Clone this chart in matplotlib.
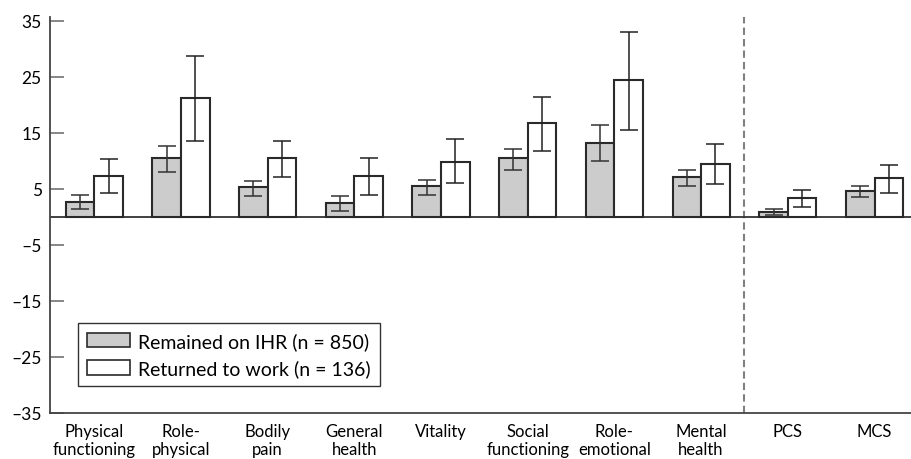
import matplotlib
matplotlib.use("Agg")
import matplotlib.pyplot as plt
from matplotlib.patches import Patch
import numpy as np

plt.rcParams['font.family'] = ['Lato', 'DejaVu Sans']

cats = ["Physical\nfunctioning", "Role-\nphysical", "Bodily\npain", "General\nhealth",
        "Vitality", "Social\nfunctioning", "Role-\nemotional", "Mental\nhealth", "PCS", "MCS"]

# remained on IHR (n = 850): mean and 95% CI
ihr = [2.7, 10.5, 5.3, 2.5, 5.5, 10.5, 13.2, 7.2, 0.95, 4.7]
ihr_lo = [1.4, 8.1, 3.8, 1.1, 3.9, 8.4, 10.0, 5.6, 0.4, 3.5]
ihr_hi = [3.9, 12.7, 6.5, 3.7, 6.6, 12.1, 16.4, 8.4, 1.5, 5.6]

# returned to work (n = 136)
rtw = [7.4, 21.2, 10.5, 7.3, 9.9, 16.7, 24.5, 9.5, 3.4, 7.0]
rtw_lo = [4.3, 13.6, 7.1, 4.0, 6.1, 11.8, 15.6, 5.8, 1.7, 4.3]
rtw_hi = [10.4, 28.7, 13.6, 10.5, 13.9, 21.5, 33.1, 13.1, 4.75, 9.2]

yticks = [35, 25, 15, 5, -5, -15, -25, -35]

fig = plt.figure(figsize=(9.12, 4.6), dpi=100)
ax = fig.add_axes([50 / 912, 46 / 460, 862 / 912, 396 / 460])

x = np.arange(len(cats))
w = 0.33
dark = '#2a2a2a'

ihr_err = [np.array(ihr) - np.array(ihr_lo), np.array(ihr_hi) - np.array(ihr)]
rtw_err = [np.array(rtw) - np.array(rtw_lo), np.array(rtw_hi) - np.array(rtw)]

ax.bar(x - w / 2, ihr, w, color='#cccccc', edgecolor=dark, linewidth=1.5, zorder=3)
ax.bar(x + w / 2, rtw, w, color='white', edgecolor=dark, linewidth=1.5, zorder=3)
ax.errorbar(x - w / 2, ihr, yerr=ihr_err, fmt='none', ecolor='#333333',
            elinewidth=1.1, capsize=6.5, capthick=1.1, zorder=4)
ax.errorbar(x + w / 2, rtw, yerr=rtw_err, fmt='none', ecolor='#222222',
            elinewidth=1.1, capsize=6.5, capthick=1.1, zorder=4)

ax.axhline(0, color='#333333', lw=1.3, zorder=2)
ax.axvline(7.5, color='#808080', lw=1.5, linestyle=(0, (3.5, 2)), zorder=1)

ax.set_xlim(-0.51, -0.51 + 862 / 86.7)
ax.set_ylim(-35, 35.7)
ax.set_yticks(yticks)
ax.set_yticklabels([str(t).replace('-', '\u2013') for t in yticks])
ax.set_xticks(x)
ax.set_xticklabels(cats, fontsize=12, linespacing=1.2)
ax.tick_params(axis='x', length=0, pad=7)
ax.tick_params(axis='y', direction='in', length=10, width=1.1, color='#666666',
               labelsize=12.5, pad=6)

for s in ['top', 'right']:
    ax.spines[s].set_visible(False)
for s in ['left', 'bottom']:
    ax.spines[s].set_color('#444444')
    ax.spines[s].set_linewidth(1.3)

handles = [Patch(facecolor='#cccccc', edgecolor=dark, linewidth=1.2, label='Remained on IHR (n = 850)'),
           Patch(facecolor='white', edgecolor=dark, linewidth=1.2, label='Returned to work (n = 136)')]
leg = ax.legend(handles=handles, loc='lower left', bbox_to_anchor=(0.0325, 0.068),
                borderaxespad=0, fancybox=False, framealpha=1, edgecolor='#333333',
                fontsize=14, handlelength=2.2, handleheight=0.75, handletextpad=0.45,
                labelspacing=0.5, borderpad=0.45)
leg.get_frame().set_linewidth(1.0)

fig.savefig('out.png', dpi=100)
